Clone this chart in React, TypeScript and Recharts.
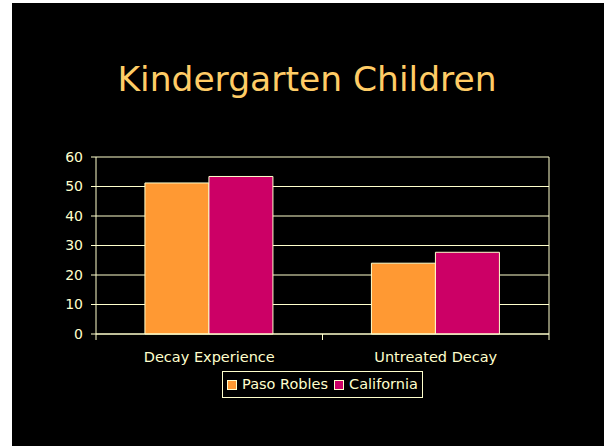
import React from 'react'
import {
  BarChart,
  Bar,
  XAxis,
  YAxis,
  CartesianGrid,
  Legend,
} from 'recharts'

const categories = ['Decay Experience', 'Untreated Decay']
const seriesNames = ['Paso Robles', 'California']
const pasoRobles = [51.2, 24]
const california = [53.4, 27.7]
const yTicks = [0, 10, 20, 30, 40, 50, 60]

const data = categories.map((name, i) => ({
  name,
  'Paso Robles': pasoRobles[i],
  California: california[i],
}))

const INK = '#ffffcc'
const FONT = '"DejaVu Sans", Verdana, sans-serif'

// category label plus a short tick at each band boundary
const BoundaryTick = (props: any) => {
  const { x, y, payload, index } = props
  const half = payload.offset || 0
  const top = y - 8
  return (
    <g>
      <line x1={x - half} y1={top} x2={x - half} y2={top + 6} stroke={INK} />
      {index === categories.length - 1 && (
        <line x1={x + half} y1={top} x2={x + half} y2={top + 6} stroke={INK} />
      )}
      <text x={x} y={y + 20} textAnchor="middle" fill={INK} fontSize={14.5} fontFamily={FONT}>
        {payload.value}
      </text>
    </g>
  )
}

const LegendBox = (props: any) => {
  const items = [...(props.payload || [])].sort(
    (a: any, b: any) => seriesNames.indexOf(a.value) - seriesNames.indexOf(b.value),
  )
  return (
    <div style={{ display: 'flex', justifyContent: 'center' }}>
      <div
        style={{
          border: `1px solid ${INK}`,
          padding: '4px 4px 4px 4px',
          display: 'flex',
          alignItems: 'center',
          fontFamily: FONT,
          fontSize: 14.5,
          lineHeight: '17px',
          color: INK,
        }}
      >
        {items.map((it: any, i: number) => (
          <span
            key={it.value}
            style={{ display: 'flex', alignItems: 'center', marginRight: i === items.length - 1 ? 0 : 6 }}
          >
            <span
              style={{
                width: 8,
                height: 8,
                background: it.color,
                border: `1px solid ${INK}`,
                marginRight: 5,
              }}
            />
            {it.value}
          </span>
        ))}
      </div>
    </div>
  )
}

export default function App() {
  return (
    <div style={{ position: 'absolute', left: 12, top: 3, width: 592, height: 443, background: '#000' }}>
      <div
        style={{
          position: 'absolute',
          left: 0,
          width: 590,
          top: 56,
          textAlign: 'center',
          color: '#ffcc66',
          fontFamily: FONT,
          fontSize: 34.5,
          lineHeight: '40px',
        }}
      >
        Kindergarten Children
      </div>
      <BarChart
        width={592}
        height={443}
        data={data}
        barCategoryGap="21.6%"
        barGap={0}
        margin={{ top: 154, right: 55, left: 0, bottom: 82 }}
      >
        <CartesianGrid
          stroke={INK}
          horizontal={true}
          vertical={true}
          verticalCoordinatesGenerator={({ offset }: any) => [offset.left + offset.width]}
        />
        <XAxis
          dataKey="name"
          stroke={INK}
          tickLine={false}
          tick={<BoundaryTick />}
          height={30}
          interval={0}
        />
        <YAxis
          width={84}
          domain={[0, 60]}
          ticks={yTicks}
          stroke={INK}
          tickSize={5}
          tickMargin={8}
          tick={{ fill: INK, fontSize: 14, fontFamily: FONT }}
          interval={0}
        />
        <Legend
          layout="horizontal"
          verticalAlign="middle"
          align="center"
          content={<LegendBox />}
          wrapperStyle={{ position: 'absolute', top: 368, left: 84, width: 453 }}
        />
        <Bar dataKey="Paso Robles" fill="#ff9933" stroke={INK} strokeWidth={1} isAnimationActive={false} />
        <Bar dataKey="California" fill="#cc0066" stroke={INK} strokeWidth={1} isAnimationActive={false} />
      </BarChart>
    </div>
  )
}
